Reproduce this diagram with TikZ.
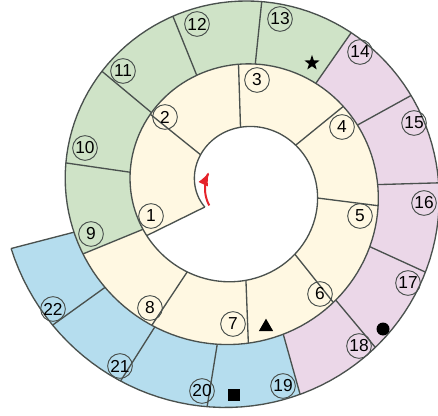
\documentclass[tikz,border=0pt]{standalone}
\usepackage{fontspec}
\setmainfont{Liberation Sans}
\usetikzlibrary{arrows.meta,shapes.geometric}
\definecolor{cellline}{HTML}{4A514E}
\definecolor{creamcell}{HTML}{FFF8E2}
\definecolor{greencell}{HTML}{CFE3C7}
\definecolor{pinkcell}{HTML}{EBD7E8}
\definecolor{bluecell}{HTML}{B5DDEE}
\definecolor{arrowred}{HTML}{E5232B}

\begin{document}
\begin{tikzpicture}[
  x=0.75pt, y=-0.75pt,
  declare function={srad(\p)=45.5+0.175*\p; sx(\p)=241-\p/180-srad(\p)*cos(\p); sy(\p)=188.5-srad(\p)*sin(\p);},
  edge/.style={draw=cellline, line width=1pt},
  num/.style={circle, draw=cellline, line width=0.7pt, minimum size=18.5pt, inner sep=0pt, font=\fontsize{13pt}{13pt}\selectfont},
  symb/.style={fill=black, inner sep=0pt},
  turn/.style={arrowred, line width=1.5pt, -{Latex[length=10pt, width=8pt]}}
]
\useasboundingbox (0,0) rectangle (438,416);
\clip (0,0) rectangle (438,416);

% cells along the spiral strip
\foreach \a/\b/\c in {-27/40/creamcell, 40/90/creamcell, 90/142/creamcell, 142/187/creamcell,
    187/230/creamcell, 230/266/creamcell, 266/302/creamcell, 302/337/creamcell,
    337/368.5/greencell, 368.5/401/greencell, 401/429.7/greencell, 429.7/457.7/greencell, 457.7/486.4/greencell,
    486.4/512/pinkcell, 512/538.4/pinkcell, 538.4/563.8/pinkcell, 563.8/588.7/pinkcell, 588.7/612.6/pinkcell,
    612.6/637.4/bluecell, 637.4/660.8/bluecell, 660.8/683.2/bluecell, 683.2/705/bluecell}
  \fill[\c] plot[domain=\a:\b, samples=16] ({sx(\x)},{sy(\x)})
    -- plot[domain=\a:\b, samples=16] ({sx(\a+\b+360-\x)},{sy(\a+\b+360-\x)}) -- cycle;

% dividers and spiral edge
\foreach \a in {-27,40,90,142,187,230,266,302,337,368.5,401,429.7,457.7,486.4,512,538.4,563.8,588.7,612.6,637.4,660.8,683.2,705}
  \draw[edge] ({sx(\a)},{sy(\a)}) -- ({sx(\a+360)},{sy(\a+360)});
\draw[edge] plot[domain=-27:1065, samples=400] ({sx(\x)},{sy(\x)});

% numbers
\foreach \i/\px/\py in {1/151/216, 2/165/117, 3/257/80, 4/342/127, 5/360/216, 6/320/294, 7/233/324, 8/150/308,
    9/91/234, 10/85/148, 11/123/71, 12/197/24, 13/280/19, 14/360/52, 15/414/123, 16/424/203,
    17/408/283, 18/359/346, 19/283/386, 20/202/391, 21/120/366, 22/53/309}
  \node[num] (n\i) at (\px,\py) {\i};

% markers
\node[symb, star, star points=5, star point ratio=2.5, minimum size=12pt] (star) at (312,63) {};
\node[symb, regular polygon, regular polygon sides=3, minimum size=12.5pt] (tri) at (266,327) {};
\node[symb, circle, minimum size=9.75pt] (dot) at (383,329) {};
\node[symb, rectangle, minimum size=9pt] (sq) at (234,395) {};

% turning direction
\draw[turn] plot[domain=-28:27, samples=20] ({241-36*cos(\x)},{188.5-36*sin(\x)});
\end{tikzpicture}
\end{document}
